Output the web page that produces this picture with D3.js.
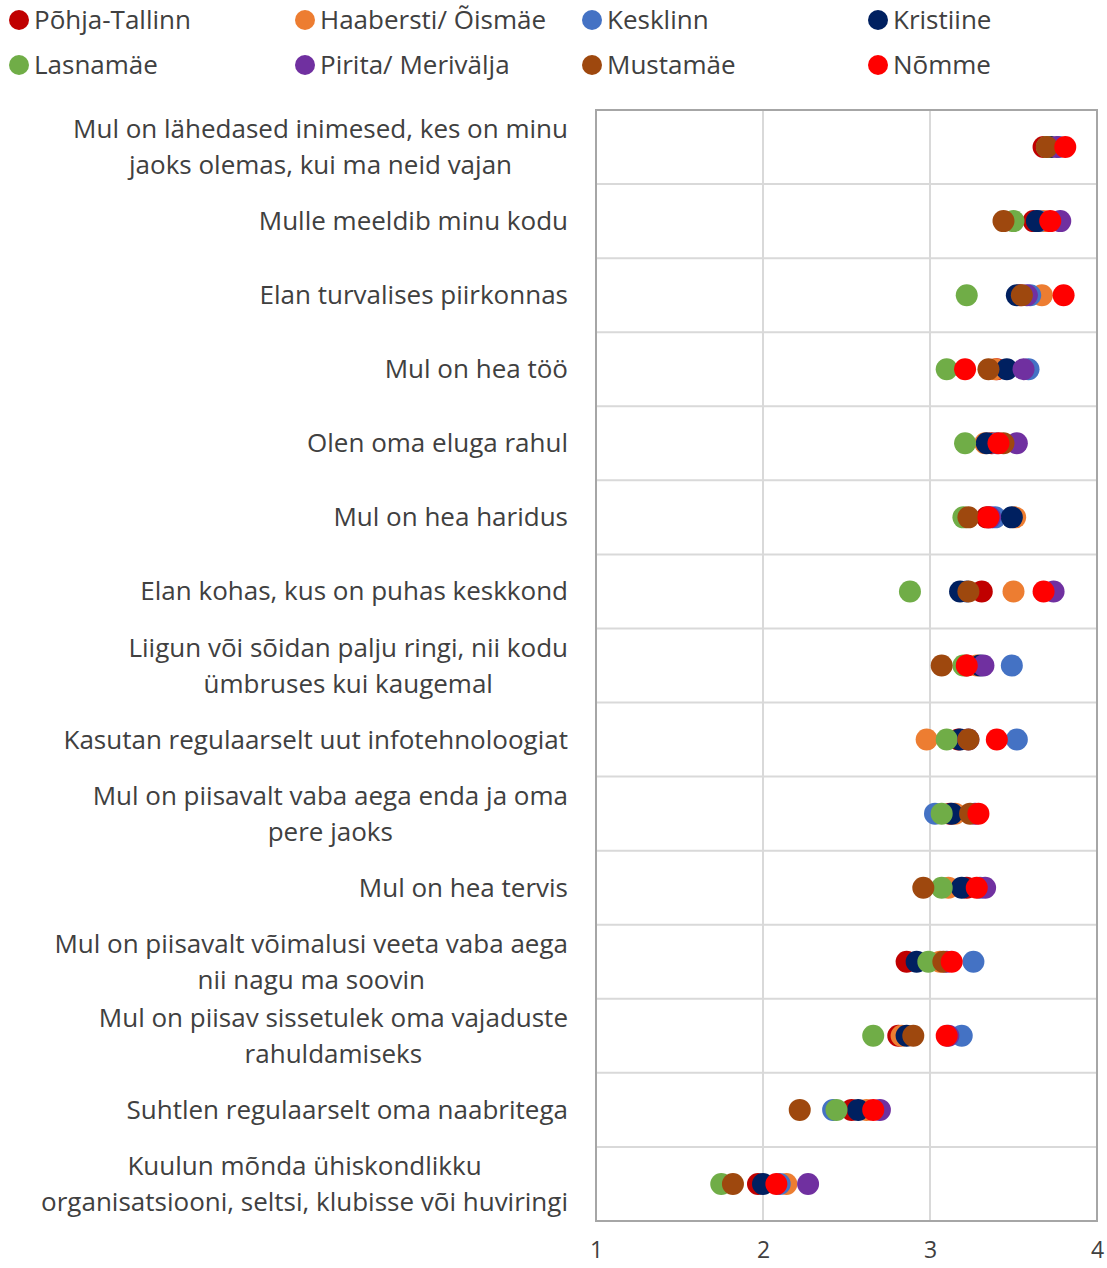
<!DOCTYPE html>
<html>
<head>
<meta charset="utf-8">
<script src="https://cdn.jsdelivr.net/npm/d3@7"></script>
<style>
  body { margin: 0; background: #fff; }
  svg text { font-family: "Open Sans", "Liberation Sans", Arial, sans-serif; fill: #404040; }
</style>
</head>
<body>
<div id="chart"></div>
<script>
// categories (top to bottom), each line of the wrapped label
const categories = [
  ["Mul on lähedased inimesed, kes on minu", "jaoks olemas, kui ma neid vajan"],
  ["Mulle meeldib minu kodu"],
  ["Elan turvalises piirkonnas"],
  ["Mul on hea töö"],
  ["Olen oma eluga rahul"],
  ["Mul on hea haridus"],
  ["Elan kohas, kus on puhas keskkond"],
  ["Liigun või sõidan palju ringi, nii kodu", "ümbruses kui kaugemal"],
  ["Kasutan regulaarselt uut infotehnoloogiat"],
  ["Mul on piisavalt vaba aega enda ja oma", "pere jaoks"],
  ["Mul on hea tervis"],
  ["Mul on piisavalt võimalusi veeta vaba aega", "nii nagu ma soovin"],
  ["Mul on piisav sissetulek oma vajaduste", "rahuldamiseks"],
  ["Suhtlen regulaarselt oma naabritega"],
  ["Kuulun mõnda ühiskondlikku", "organisatsiooni, seltsi, klubisse või huviringi"]
];

const seriesNames = ["Põhja-Tallinn", "Haabersti/ Õismäe", "Kesklinn", "Kristiine",
  "Lasnamäe", "Pirita/ Merivälja", "Mustamäe", "Nõmme"];
const seriesColors = ["#C00000", "#ED7D31", "#4472C4", "#002060",
  "#70AD47", "#7030A0", "#9E480E", "#FF0000"];

// one value per category, same order as categories
const pohjaTallinn = [3.68, 3.62, 3.54, 3.40, 3.37, 3.34, 3.31, 3.22, 3.17, 3.12, 3.22, 2.86, 2.81, 2.53, 1.97];
const haabersti    = [3.72, 3.68, 3.67, 3.39, 3.33, 3.51, 3.50, 3.28, 2.98, 3.15, 3.11, 3.06, 2.83, 2.62, 2.14];
const kesklinn     = [3.77, 3.65, 3.60, 3.59, 3.40, 3.39, 3.22, 3.49, 3.52, 3.03, 3.30, 3.26, 3.19, 2.42, 2.10];
const kristiine    = [3.72, 3.64, 3.52, 3.46, 3.34, 3.49, 3.18, 3.30, 3.18, 3.13, 3.19, 2.92, 2.86, 2.57, 2.00];
const lasnamae     = [3.70, 3.50, 3.22, 3.10, 3.21, 3.20, 2.88, 3.20, 3.10, 3.07, 3.07, 2.99, 2.66, 2.44, 1.75];
const pirita       = [3.76, 3.78, 3.58, 3.56, 3.52, 3.36, 3.74, 3.32, 3.23, 3.27, 3.33, 3.10, 3.11, 2.70, 2.27];
const mustamae     = [3.70, 3.44, 3.55, 3.35, 3.44, 3.23, 3.23, 3.07, 3.23, 3.24, 2.96, 3.08, 2.90, 2.22, 1.82];
const nomme        = [3.81, 3.72, 3.80, 3.21, 3.41, 3.35, 3.68, 3.22, 3.40, 3.29, 3.28, 3.13, 3.10, 2.66, 2.08];

const seriesValues = [pohjaTallinn, haabersti, kesklinn, kristiine, lasnamae, pirita, mustamae, nomme];
const xTicks = [1, 2, 3, 4];

const width = 1107, height = 1268;
const plot = { left: 596, right: 1097, top: 110, bottom: 1221 };

const svg = d3.select("#chart")
  .append("svg")
  .attr("width", width)
  .attr("height", height);

const x = d3.scaleLinear().domain([1, 4]).range([plot.left, plot.right]);
const y = d3.scaleBand()
  .domain(d3.range(categories.length))
  .range([plot.top, plot.bottom])
  .padding(0);

// horizontal separators between categories
svg.append("g")
  .selectAll("line")
  .data(d3.range(categories.length + 1))
  .join("line")
  .attr("x1", plot.left)
  .attr("x2", plot.right)
  .attr("y1", (d) => plot.top + d * y.step())
  .attr("y2", (d) => plot.top + d * y.step())
  .style("stroke", "#d9d9d9")
  .style("stroke-width", "2px");

// vertical gridlines
svg.append("g")
  .selectAll("line")
  .data(xTicks.slice(1, -1))
  .join("line")
  .attr("x1", (d) => x(d))
  .attr("x2", (d) => x(d))
  .attr("y1", plot.top)
  .attr("y2", plot.bottom)
  .style("stroke", "#d9d9d9")
  .style("stroke-width", "2px");

// plot frame
svg.append("rect")
  .attr("x", plot.left)
  .attr("y", plot.top)
  .attr("width", plot.right - plot.left)
  .attr("height", plot.bottom - plot.top)
  .style("fill", "none")
  .style("stroke", "#a6a6a6")
  .style("stroke-width", "2px");

// x axis labels
const xAxis = svg.append("g")
  .attr("transform", `translate(0,${plot.bottom})`)
  .call(d3.axisBottom(x).tickValues(xTicks).tickSize(0).tickPadding(21).tickFormat(d3.format("d")));
xAxis.select(".domain").remove();
xAxis.selectAll("text")
  .style("font-size", "23px")
  .style("font-family", "\"Open Sans\", \"Liberation Sans\", Arial, sans-serif")
  .attr("fill", "#404040");

// category labels, wrapped lines centred on each other, block right-aligned
const labelRight = 568;
const lineGap = 36;
categories.forEach((lines, i) => {
  const cy = y(i) + y.bandwidth() / 2;
  const t = svg.append("text")
    .attr("font-size", "26px")
    .attr("text-anchor", "middle");
  lines.forEach((ln, j) => {
    t.append("tspan")
      .attr("dy", j === 0 ? 0 : lineGap)
      .text(ln);
  });
  const widths = t.selectAll("tspan").nodes().map((n) => n.getComputedTextLength());
  const cx = labelRight - d3.max(widths) / 2;
  t.selectAll("tspan").attr("x", cx);
  const y0 = cy - ((lines.length - 1) * lineGap) / 2 + 9;
  t.attr("y", y0);
});

// dots, series drawn in order so later ones sit on top
seriesValues.forEach((vals, s) => {
  svg.append("g")
    .selectAll("circle")
    .data(vals)
    .join("circle")
    .attr("cx", (d) => x(d))
    .attr("cy", (d, i) => y(i) + y.bandwidth() / 2)
    .attr("r", 11)
    .style("fill", seriesColors[s]);
});

// legend, two rows of four
const legendX = [19, 305, 592, 878];
const legendY = [20, 65];
const legend = svg.append("g");
seriesNames.forEach((name, i) => {
  const lx = legendX[i % 4];
  const ly = legendY[Math.floor(i / 4)];
  legend.append("circle")
    .attr("cx", lx)
    .attr("cy", ly)
    .attr("r", 10)
    .style("fill", seriesColors[i]);
  legend.append("text")
    .attr("x", lx + 15)
    .attr("y", ly + 9)
    .attr("font-size", "26px")
    .text(name);
});
</script>
</body>
</html>
